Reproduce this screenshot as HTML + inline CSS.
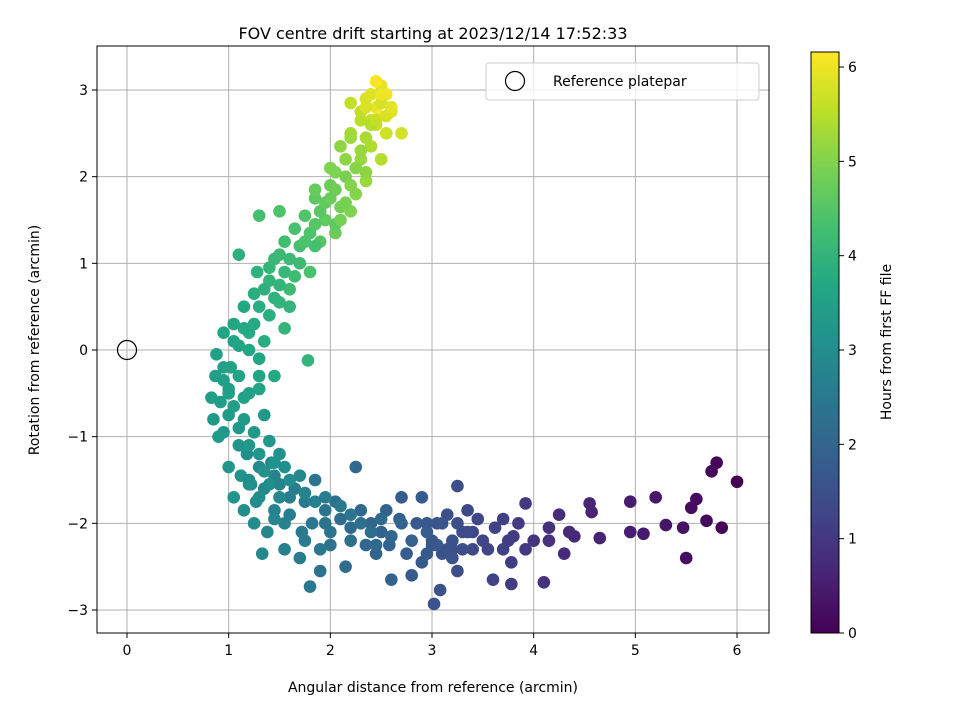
<!DOCTYPE html>
<html><head><meta charset="utf-8">
<style>
body{margin:0;background:#fff;font-family:"Liberation Sans","DejaVu Sans",sans-serif;}
svg text{font-family:"DejaVu Sans","Liberation Sans",sans-serif;}
</style></head>
<body>
<svg id="chart" width="960" height="720" viewBox="0 0 960 720" xmlns="http://www.w3.org/2000/svg">
<defs>
<linearGradient id="vir" x1="0" y1="1" x2="0" y2="0">
<stop offset="0" stop-color="#440154"/><stop offset="0.1" stop-color="#482475"/><stop offset="0.2" stop-color="#414487"/><stop offset="0.3" stop-color="#355f8d"/><stop offset="0.4" stop-color="#2a788e"/><stop offset="0.5" stop-color="#21918c"/><stop offset="0.6" stop-color="#22a884"/><stop offset="0.7" stop-color="#44bf70"/><stop offset="0.8" stop-color="#7ad151"/><stop offset="0.9" stop-color="#bddf26"/><stop offset="1" stop-color="#fde725"/>
</linearGradient>
<clipPath id="pc"><rect x="97" y="46" width="672" height="587"/></clipPath>
</defs>
<text x="433" y="39" text-anchor="middle" font-size="16">FOV centre drift starting at 2023/12/14 17:52:33</text>
<g id="grid"></g>
<g id="pts" clip-path="url(#pc)"></g>
<rect x="97" y="46" width="672" height="587" fill="none" stroke="#000" stroke-width="1"/>
<g id="ticks"></g>
<text x="433" y="692" text-anchor="middle" font-size="14">Angular distance from reference (arcmin)</text>
<text transform="translate(39,340) rotate(-90)" text-anchor="middle" font-size="14">Rotation from reference (arcmin)</text>
<g>
<rect x="486" y="63" width="273" height="37" rx="3" fill="#fff" fill-opacity="0.8" stroke="#ccc"/>
<circle cx="515" cy="81" r="9.5" fill="none" stroke="#000" stroke-width="1.2"/>
<text x="553" y="86" font-size="14">Reference platepar</text>
</g>
<g>
<rect x="811" y="52" width="28" height="581" fill="url(#vir)" stroke="#000" stroke-width="1"/>
<g id="cbticks"></g>
<text transform="translate(891,342) rotate(-90)" text-anchor="middle" font-size="14">Hours from first FF file</text>
</g>
</svg>
<script>
const xs=[6.0,5.8,5.75,5.85,5.7,5.6,5.55,5.5,5.47,5.3,5.2,5.08,4.95,4.95,4.65,4.55,4.57,4.4,4.3,4.35,4.25,4.15,4.1,4.15,4.0,3.92,3.92,3.85,3.78,3.78,3.75,3.7,3.6,3.62,3.55,3.45,3.4,3.35,3.3,3.25,3.25,3.2,3.15,3.1,3.08,3.05,3.02,3.0,2.95,2.9,2.9,2.8,2.75,2.7,2.68,2.6,2.58,2.55,2.5,2.45,2.4,2.35,2.3,2.25,2.2,2.15,2.1,2.05,2.0,1.95,1.9,1.85,1.82,1.8,1.75,1.72,1.7,1.65,1.6,1.55,1.5,1.45,1.42,1.38,1.35,1.33,1.3,1.27,1.25,1.22,1.18,1.15,1.12,1.1,1.05,1.0,0.95,0.9,0.85,0.83,0.87,0.88,0.92,1.0,1.1,1.35,1.4,1.5,0.95,1.05,1.02,1.1,1.15,1.2,1.3,1.25,1.35,1.4,1.1,1.28,1.4,1.5,1.55,1.78,1.45,1.6,1.7,1.55,1.3,1.65,1.8,1.75,1.5,1.9,1.85,1.95,2.0,2.05,2.1,2.15,2.2,2.0,2.25,2.1,2.3,2.35,2.2,2.4,2.5,2.3,2.2,2.45,2.55,2.7,2.35,2.6,2.5,2.45,2.55,2.48,2.45,3.2,3.4,3.0,2.85,1.95,1.6,1.45,1.2,1.0,0.95,1.15,1.3,1.45,1.6,1.85,2.05,2.35,2.4,2.6,
1.3,1.35,1.45,1.5,1.4,1.55,1.6,1.5,1.65,1.7,1.8,1.75,1.85,1.9,1.95,1.85,2.0,2.05,2.1,2.15,2.05,2.2,2.25,2.15,2.3,2.2,2.35,2.4,2.3,2.45,2.5,2.4,2.55,2.6,2.5,2.35,1.25,1.15,1.2,1.05,1.1,1.2,1.3,1.0,0.95,1.05,1.15,1.25,1.2,1.3,1.35,1.45,1.55,1.6,1.7,1.4,1.5,1.3,1.2,1.75,1.85,1.95,2.1,2.2,2.3,2.4,2.5,2.6,2.7,2.8,2.95,3.05,3.15,3.2,3.3,3.35,3.1,2.95,3.25,3.5,3.7,3.8,2.0,2.2,2.45,1.9,1.75,1.55,1.45];
const ys=[-1.52,-1.3,-1.4,-2.05,-1.97,-1.72,-1.82,-2.4,-2.05,-2.02,-1.7,-2.12,-1.75,-2.1,-2.17,-1.77,-1.87,-2.15,-2.35,-2.1,-1.9,-2.2,-2.68,-2.05,-2.2,-1.77,-2.3,-2.0,-2.45,-2.7,-2.2,-1.95,-2.65,-2.05,-2.3,-1.95,-2.3,-1.85,-2.1,-2.55,-1.57,-2.2,-1.9,-2.35,-2.77,-2.0,-2.93,-2.25,-2.0,-2.45,-1.7,-2.6,-2.35,-1.7,-1.95,-2.65,-2.25,-1.85,-2.1,-2.35,-2.0,-2.25,-1.85,-1.35,-2.05,-2.5,-1.95,-1.75,-2.25,-1.85,-2.55,-1.5,-2.0,-2.73,-1.75,-2.1,-2.4,-1.6,-1.9,-2.3,-1.55,-1.85,-1.3,-2.1,-1.6,-2.35,-1.35,-1.75,-2.0,-1.55,-1.2,-1.85,-1.45,-1.1,-1.7,-1.35,-0.95,-1.0,-0.8,-0.55,-0.3,-0.05,-0.6,-0.75,-0.9,-0.75,-1.05,-1.2,0.2,0.3,-0.2,0.05,0.5,0.2,-0.3,0.65,0.1,0.4,1.1,0.9,0.8,0.55,0.25,-0.12,1.05,0.7,1.0,1.25,1.55,1.4,0.9,1.55,1.6,1.25,1.75,1.5,1.9,1.35,1.65,2.0,1.6,2.1,1.8,2.35,2.2,1.95,2.5,2.35,2.2,2.65,2.85,2.6,2.5,2.5,2.9,2.75,3.05,2.8,2.95,2.7,3.1,-2.3,-2.1,-2.2,-2.0,-2.0,-1.7,-1.45,-1.5,-0.45,-0.2,-0.55,-0.45,-0.3,0.5,1.2,1.45,2.05,2.65,2.8,
0.5,0.7,0.6,0.75,0.95,0.9,1.05,1.1,0.85,1.2,1.35,1.25,1.45,1.6,1.7,1.85,1.75,1.85,1.5,1.7,2.05,1.9,2.1,2.2,2.3,2.45,2.45,2.6,2.75,2.65,2.85,2.95,2.7,2.8,2.95,2.8,0.3,0.25,0.0,0.1,-0.3,-0.5,-0.1,-0.5,-0.35,-0.65,-0.8,-0.95,-1.1,-1.2,-1.4,-1.3,-1.35,-1.5,-1.45,-1.55,-1.7,-1.7,-1.55,-1.65,-1.75,-1.7,-1.8,-1.9,-2.0,-2.1,-1.95,-2.15,-2.0,-2.2,-2.1,-2.25,-2.3,-2.4,-2.3,-2.1,-2.0,-2.35,-2.0,-2.2,-2.3,-2.15,-2.1,-2.2,-2.25,-2.3,-2.2,-2.0,-1.95];
const hs=[0.0,0.05,0.1,0.1,0.15,0.2,0.2,0.25,0.3,0.35,0.4,0.45,0.5,0.5,0.6,0.65,0.65,0.7,0.75,0.75,0.8,0.85,0.9,0.85,0.95,1.0,1.0,1.05,1.1,1.1,1.1,1.15,1.2,1.2,1.25,1.3,1.35,1.35,1.4,1.45,1.45,1.5,1.5,1.55,1.55,1.6,1.6,1.65,1.7,1.7,1.75,1.75,1.8,1.8,1.85,1.9,1.9,1.95,1.95,2.0,2.0,2.05,2.1,2.1,2.15,2.15,2.2,2.25,2.3,2.35,2.35,2.4,2.4,2.45,2.5,2.5,2.55,2.6,2.6,2.65,2.7,2.7,2.75,2.8,2.85,2.85,2.9,2.9,2.95,3.0,3.05,3.05,3.1,3.15,3.15,3.2,3.25,3.3,3.35,3.4,3.45,3.5,3.4,3.35,3.3,3.3,3.2,3.1,3.6,3.65,3.55,3.6,3.7,3.75,3.6,3.8,3.8,3.85,3.9,3.95,4.0,4.0,4.0,4.0,4.1,4.15,4.2,4.25,4.3,4.35,4.35,4.45,4.4,4.5,4.6,4.65,4.75,4.75,4.85,4.9,4.95,4.95,5.0,5.1,5.2,5.2,5.3,5.4,5.45,5.5,5.6,5.65,5.7,5.75,5.8,5.85,5.9,5.95,6.0,6.05,6.1,1.45,1.3,1.65,1.75,2.35,2.6,2.75,2.95,3.45,3.5,3.55,3.6,3.7,4.0,4.3,4.6,5.1,5.6,5.75,
3.85,3.9,3.95,4.0,4.05,4.1,4.15,4.15,4.2,4.3,4.4,4.4,4.5,4.55,4.65,4.7,4.75,4.8,4.85,4.9,4.95,5.0,5.05,5.1,5.2,5.25,5.35,5.45,5.55,5.6,5.75,5.85,5.8,5.9,6.0,5.8,3.75,3.7,3.65,3.6,3.55,3.5,3.6,3.45,3.45,3.4,3.35,3.3,3.25,3.2,3.1,3.1,3.05,2.95,2.9,3.0,2.85,3.0,3.05,2.75,2.65,2.6,2.5,2.4,2.3,2.2,2.15,2.05,2.0,1.9,1.8,1.7,1.6,1.55,1.45,1.4,1.65,1.75,1.5,1.3,1.2,1.1,2.35,2.25,2.1,2.45,2.55,2.7,2.8];
const xTicks=[0,1,2,3,4,5,6];
const yTicks=[-3,-2,-1,0,1,2,3];
const cTicks=[0,1,2,3,4,5,6];
const refX=[0], refY=[0];

const NS="http://www.w3.org/2000/svg";
const X=v=>127+v*101.67;
const Y=v=>350-v*86.67;
const C=h=>633-h*94.33;
const vir=["#440154","#482475","#414487","#355f8d","#2a788e","#21918c","#22a884","#44bf70","#7ad151","#bddf26","#fde725"];
function hex(c){return [1,3,5].map(i=>parseInt(c.substr(i,2),16));}
function cmap(h){let t=Math.max(0,Math.min(1,h/6.15))*10;let i=Math.min(9,Math.floor(t)),f=t-i;let a=hex(vir[i]),b=hex(vir[i+1]);return "rgb("+a.map((v,k)=>Math.round(v+(b[k]-v)*f)).join(",")+")";}
function mk(tag,attrs,parent){const e=document.createElementNS(NS,tag);for(const k in attrs)e.setAttribute(k,attrs[k]);parent.appendChild(e);return e;}
const grid=document.getElementById('grid'),ticks=document.getElementById('ticks'),pts=document.getElementById('pts'),cb=document.getElementById('cbticks');
xTicks.forEach(v=>{
 const l=mk('line',{x1:X(v),x2:X(v),y1:46,y2:633,stroke:'#b0b0b0','stroke-width':1},grid);
 
 
 mk('line',{x1:X(v),x2:X(v),y1:633,y2:638,stroke:'#000'},ticks);
 const t=mk('text',{x:X(v),y:655,'text-anchor':'middle','font-size':14},ticks);
 
 
 t.textContent=v;
});
yTicks.forEach(v=>{
 const l=mk('line',{x1:97,x2:769,y1:Y(v),y2:Y(v),stroke:'#b0b0b0','stroke-width':1},grid);
 
 
 mk('line',{x1:92,x2:97,y1:Y(v),y2:Y(v),stroke:'#000'},ticks);
 const t=mk('text',{x:88,y:Y(v)+5,'text-anchor':'end','font-size':14},ticks);
 
 
 t.textContent=v<0?'\u2212'+(-v):v;
});
cTicks.forEach(v=>{
 mk('line',{x1:839,x2:844,y1:C(v),y2:C(v),stroke:'#000'},cb);
 const t=mk('text',{x:848,y:C(v)+5,'font-size':14},cb);
 
 
 t.textContent=v;
});
xs.forEach((x,i)=>{
 const c=mk('circle',{cx:X(x),cy:Y(ys[i]),r:6.3,fill:cmap(hs[i])},pts);
 
 
});
refX.forEach((x,i)=>{
 const c=mk('circle',{cx:X(x),cy:Y(refY[i]),r:9.5,fill:'none',stroke:'#000','stroke-width':1.2},pts);
 
 
});
</script>
</body></html>
